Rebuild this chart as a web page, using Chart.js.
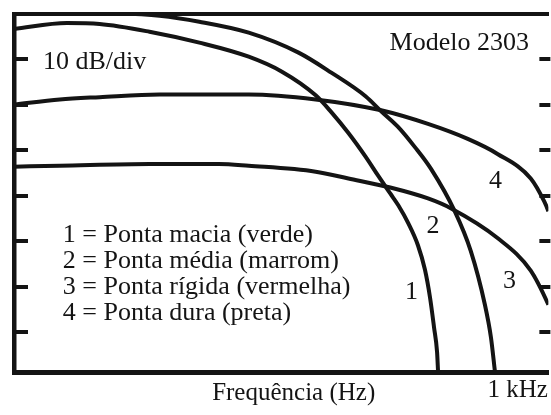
<!DOCTYPE html>
<html>
<head>
<meta charset="utf-8">
<script src="https://cdn.jsdelivr.net/npm/chart.js@4.4.1/dist/chart.umd.min.js"></script>
<style>
  html, body { margin: 0; padding: 0; background: #fff; overflow: hidden; }
  #wrap { width: 551px; height: 415px; }
</style>
</head>
<body>
<div id="wrap"><canvas id="chart"></canvas></div>
<script>
// frequency in Hz, level in dB (0 dB = top of the frame)
const tipLabels = ['Ponta macia (verde)', 'Ponta média (marrom)', 'Ponta rígida (vermelha)', 'Ponta dura (preta)'];

const curve1Freq = [0, 105, 170, 269, 368, 466, 532, 599, 630, 664, 698, 723, 747, 763, 783, 802, 816, 826, 834, 840, 842];
const curve1Db = [-3.3, -2.0, -2.2, -3.9, -6.3, -9.4, -12.7, -17.9, -21.6, -26.2, -31.4, -35.6, -39.5, -42.1, -46.1, -50.9, -56.3, -62.4, -69.0, -74.4, -78.8];

const curve2Freq = [0, 170, 289, 368, 466, 565, 630, 698, 729, 763, 796, 828, 875, 907, 935, 947, 955];
const curve2Db = [1.3, 0.4, -0.4, -1.7, -4.1, -8.5, -12.9, -18.1, -21.4, -24.9, -29.3, -34.1, -43.4, -52.2, -64.0, -71.2, -78.8];

const curve3Freq = [0, 91, 269, 407, 466, 599, 664, 747, 822, 868, 960, 1026, 1061, 1079];
const curve3Db = [-33.6, -33.4, -33.0, -33.0, -33.4, -34.7, -36.2, -38.2, -40.6, -42.8, -49.3, -56.5, -64.0, -69.0];

const curve4Freq = [0, 91, 170, 289, 466, 599, 729, 822, 901, 960, 1026, 1053, 1061, 1079];
const curve4Db = [-19.9, -18.8, -18.3, -17.7, -17.7, -18.8, -21.2, -24.2, -27.5, -30.8, -36.2, -41.3, -43.4, -49.3];

const xTicks = [1000];
const xTickLabels = ['1 kHz'];
const yTicks = [-10, -20, -30, -40, -50, -60, -70];

const INK = '#141414';
const SERIF = '"Liberation Serif", "Times New Roman", serif';

Chart.defaults.font.family = SERIF;
Chart.defaults.color = INK;

function toPoints(xs, ys) {
  return xs.map((f, i) => ({ x: f, y: ys[i] }));
}

const series = [
  [curve1Freq, curve1Db],
  [curve2Freq, curve2Db],
  [curve3Freq, curve3Db],
  [curve4Freq, curve4Db]
];

// where the curve numbers sit (Hz, dB)
const curveTags = [
  { text: '1', f: 789, db: -61.3 },
  { text: '2', f: 832, db: -46.7 },
  { text: '3', f: 984, db: -58.7 },
  { text: '4', f: 956, db: -36.9 }
];

const innerMarks = {
  id: 'innerMarks',
  afterDatasetsDraw(chart) {
    const { ctx, chartArea, scales: { x, y } } = chart;
    ctx.save();
    ctx.strokeStyle = INK;
    ctx.lineWidth = 4;
    ctx.beginPath();
    yTicks.forEach(v => {
      const py = Math.round(y.getPixelForValue(v));
      ctx.moveTo(chartArea.left, py);
      ctx.lineTo(chartArea.left + 14, py);
      ctx.moveTo(chartArea.right - 9, py);
      ctx.lineTo(chartArea.right + 2, py);
    });
    ctx.stroke();

    ctx.font = '26px ' + SERIF;
    ctx.fillStyle = INK;
    const put = (txt, f, db, align, base) => {
      ctx.textAlign = align;
      ctx.textBaseline = base;
      ctx.fillText(txt, x.getPixelForValue(f), y.getPixelForValue(db));
    };
    put('10 dB/div', 160, -12.0, 'center', 'alphabetic');
    put('Modelo 2303', 884, -7.9, 'center', 'alphabetic');
    chart.data.datasets.forEach((ds, i) => {
      put((i + 1) + ' = ' + ds.label, 97, -50.2 - i * 5.7, 'left', 'alphabetic');
    });
    curveTags.forEach(t => put(t.text, t.f, t.db, 'center', 'middle'));
    ctx.restore();
  }
};

new Chart(document.getElementById('chart'), {
  type: 'line',
  data: {
    datasets: series.map((s, i) => ({
      label: tipLabels[i],
      data: toPoints(s[0], s[1]),
      borderColor: INK,
      borderWidth: 4,
      pointRadius: 0,
      cubicInterpolationMode: 'monotone',
      fill: false
    }))
  },
  options: {
    responsive: true,
    maintainAspectRatio: false,
    animation: false,
    devicePixelRatio: 1,
    layout: { padding: { left: 14, top: 14, right: 0, bottom: 7 } },
    plugins: { legend: { display: false }, tooltip: { enabled: false } },
    scales: {
      x: {
        type: 'linear',
        position: 'bottom',
        min: 0,
        max: 1061,
        afterBuildTicks: s => { s.ticks = xTicks.map(v => ({ value: v })); },
        ticks: {
          autoSkip: false,
          maxRotation: 0,
          padding: 3,
          font: { size: 25 },
          callback: (v) => xTickLabels[xTicks.indexOf(v)]
        },
        grid: { drawOnChartArea: false, drawTicks: false },
        border: { width: 5, color: INK },
        title: {
          display: true,
          text: '\u00a0\u00a0\u00a0\u00a0Frequência (Hz)',
          font: { size: 25 },
          padding: { top: -30, bottom: 0 }
        }
      },
      xTop: {
        type: 'linear',
        axis: 'x',
        position: 'top',
        min: 0,
        max: 1061,
        ticks: { display: false },
        grid: { drawOnChartArea: false, drawTicks: false },
        border: { width: 4, color: INK }
      },
      y: {
        type: 'linear',
        min: -78.8,
        max: 0,
        ticks: { display: false, stepSize: 10 },
        grid: { drawOnChartArea: false, drawTicks: false },
        border: { width: 4.5, color: INK }
      }
    }
  },
  plugins: [innerMarks]
});
</script>
</body>
</html>
